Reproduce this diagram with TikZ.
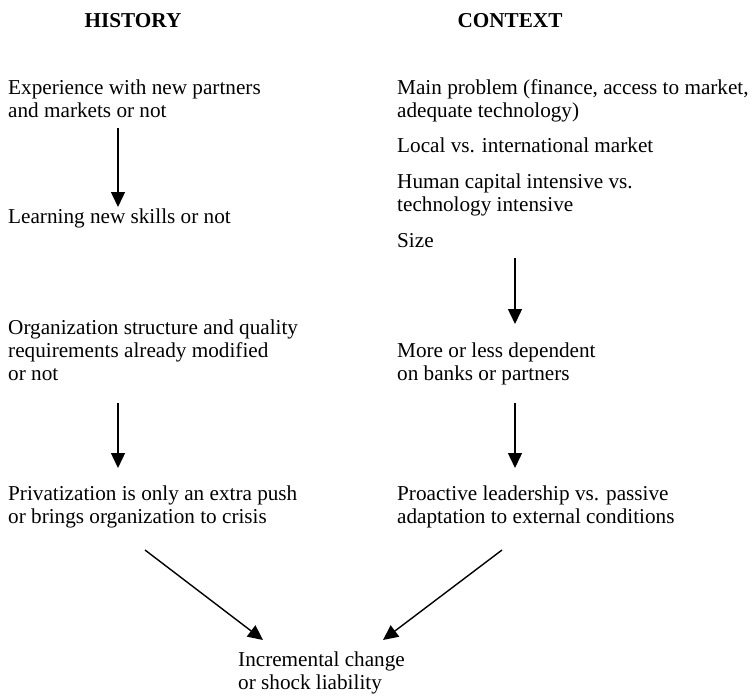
\documentclass[tikz,border=0pt]{standalone}
\usepackage{fontspec}
\setmainfont{Liberation Serif}
\usetikzlibrary{arrows.meta}
\begin{document}
\begin{tikzpicture}[x=1pt,y=-1pt,
  lbl/.style={anchor=base west,inner sep=0pt,align=left,font=\fontsize{21.2}{23}\selectfont},
  head/.style={anchor=base,inner sep=0pt,font=\fontsize{21.2}{23}\selectfont\bfseries},
  arr/.style={line width=1.4pt,-{Triangle[length=15pt,width=14pt]}}]
\useasboundingbox (0,0) rectangle (752,699);
\node[head] (hist) at (133,27) {HISTORY};
\node[head] (ctx) at (510,27) {CONTEXT};
\node[lbl] (exp) at (8,117) {Experience with new partners\\and markets or not};
\node[lbl] (learn) at (8,223) {Learning new skills or not};
\node[lbl] (org) at (8,380) {Organization structure and quality\\requirements already modified\\or not};
\node[lbl] (priv) at (8,523) {Privatization is only an extra push\\or brings organization to crisis};
\node[lbl] (inc) at (238,689) {Incremental change\\or shock liability};
\node[lbl] (main) at (397,117) {Main problem (finance, access to market,\\adequate technology)};
\node[lbl] (local) at (397,152) {Local vs. international market};
\node[lbl] (human) at (397,211) {Human capital intensive vs.\\technology intensive};
\node[lbl] (size) at (397,247) {Size};
\node[lbl] (dep) at (397,380) {More or less dependent\\on banks or partners};
\node[lbl] (pro) at (397,523) {Proactive leadership vs. passive\\adaptation to external conditions};
\draw[arr] ([xshift=110pt,yshift=-11pt]exp.base west) -- ([xshift=110pt,yshift=16pt]learn.base west);
\draw[arr] ([xshift=110pt,yshift=-23pt]org.base west) -- ([xshift=110pt,yshift=55pt]priv.base west);
\draw[arr] ([xshift=118pt,yshift=-11pt]size.base west) -- ([xshift=118pt,yshift=56pt]dep.base west);
\draw[arr] ([xshift=118pt,yshift=-23pt]dep.base west) -- ([xshift=118pt,yshift=55pt]pro.base west);
\draw[arr] ([xshift=137pt,yshift=-27pt]priv.base west) -- ([xshift=25pt,yshift=49pt]inc.base west);
\draw[arr] ([xshift=105pt,yshift=-27pt]pro.base west) -- ([xshift=145pt,yshift=49pt]inc.base west);
\end{tikzpicture}
\end{document}
